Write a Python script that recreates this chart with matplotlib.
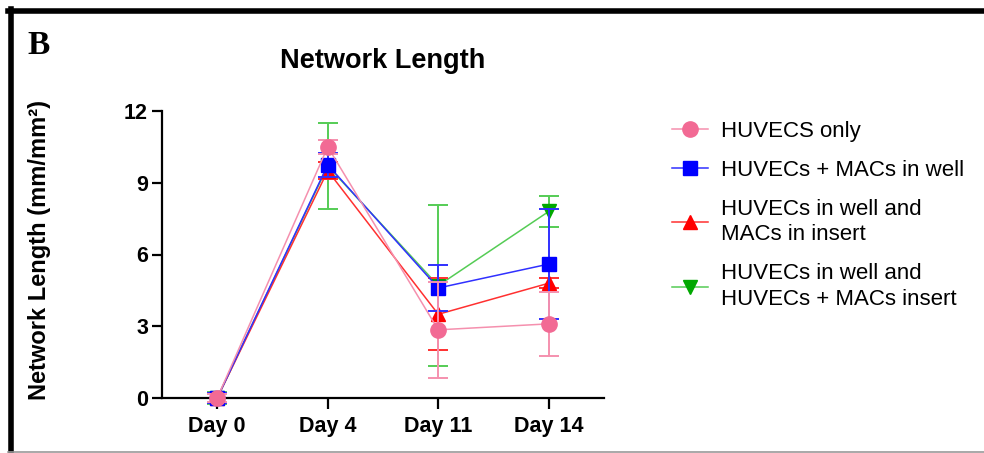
import numpy as np
import matplotlib
matplotlib.use('Agg')
import matplotlib.pyplot as plt
from matplotlib.lines import Line2D

days = ["Day 0", "Day 4", "Day 11", "Day 14"]
y_ticks = [0, 3, 6, 9, 12]

huvecs_only = [0, 10.5, 2.85, 3.1]
huvecs_only_err = [0.15, 0.3, 2.0, 1.35]
macs_in_well = [0, 9.75, 4.6, 5.6]
macs_in_well_err = [0.2, 0.5, 0.95, 2.3]
macs_in_insert = [0, 9.5, 3.5, 4.8]
macs_in_insert_err = [0.2, 0.35, 1.5, 0.2]
huvecs_macs_insert = [0, 9.7, 4.7, 7.8]
huvecs_macs_insert_err = [0.25, 1.8, 3.35, 0.65]

labels = ["HUVECS only", "HUVECs + MACs in well",
          "HUVECs in well and\nMACs in insert",
          "HUVECs in well and\nHUVECs + MACs insert"]

plt.rcParams['font.family'] = ['Liberation Sans', 'DejaVu Sans']

fig = plt.figure(figsize=(9.84, 4.53), dpi=100)
ax = fig.add_axes([162/984, 1-398/453, (604-162)/984, (398-111)/453])

x = np.arange(len(days))
series = [
    (huvecs_macs_insert, huvecs_macs_insert_err, '#00a800', '#55cc55', 'v', 10.5, 2),
    (macs_in_insert, macs_in_insert_err, '#ff0000', '#ff3030', '^', 10.5, 3),
    (macs_in_well, macs_in_well_err, '#0000ff', '#3030ff', 's', 9.5, 4),
    (huvecs_only, huvecs_only_err, '#f26a94', '#f590ae', 'o', 11, 5),
]
for vals, err, mcol, lcol, mk, ms, z in series:
    cont = ax.errorbar(x, vals, yerr=err, color=lcol, ecolor=lcol, elinewidth=1.4,
                       capsize=7, capthick=1.4, lw=1.1, marker=mk, ms=ms,
                       mfc=mcol, mec=mcol, zorder=z)
    for art in cont.get_children():
        art.set_clip_on(False)

ax.set_xlim(-0.5, 3.5)
ax.set_ylim(0, 12)
ax.set_xticks(x)
ax.set_xticklabels(days, fontsize=15.5, fontweight='bold')
ax.set_yticks(y_ticks)
ax.set_yticklabels([str(t) for t in y_ticks], fontsize=15.5, fontweight='bold')
for s in ['top', 'right']:
    ax.spines[s].set_visible(False)
for s in ['left', 'bottom']:
    ax.spines[s].set_linewidth(1.6)
ax.tick_params(axis='x', length=8, width=1.6, pad=5)
ax.tick_params(axis='y', length=7, width=1.6, pad=3)

fig.text(383/984, 1-61/453, "Network Length", fontsize=19.5, fontweight='bold',
         ha='center', va='center')
fig.text(40/984, 1-250/453, "Network Length (mm/mm²)", fontsize=17,
         fontweight='bold', rotation=90, ha='center', va='center')
fig.text(39/984, 1-46/453, "B", fontsize=24, fontweight='bold',
         family='Liberation Serif', ha='center', va='center')

# legend, same order as the picture
handles = []
for (vals, err, mcol, lcol, mk, ms, z) in series[::-1]:
    handles.append(Line2D([], [], color=lcol, lw=1.1, marker=mk, ms=ms,
                          mfc=mcol, mec=mcol))
leg = fig.legend(handles, labels, loc='upper left',
                 bbox_to_anchor=(672/984, 1-121/453), frameon=False,
                 fontsize=16, handlelength=1.6, handletextpad=0.6,
                 labelspacing=0.8, borderpad=0, borderaxespad=0)
for t in leg.get_texts():
    t.set_linespacing(1.3)

# outer frame
fig.add_artist(Line2D([8/984, 1], [1-10.5/453, 1-10.5/453], color='black', lw=4))
fig.add_artist(Line2D([10.5/984, 10.5/984], [0, 1-8.5/453], color='black', lw=4))
fig.add_artist(Line2D([8/984, 1], [1.5/453, 1.5/453], color='#999999', lw=1.2))

fig.savefig('out.png', dpi=100)
